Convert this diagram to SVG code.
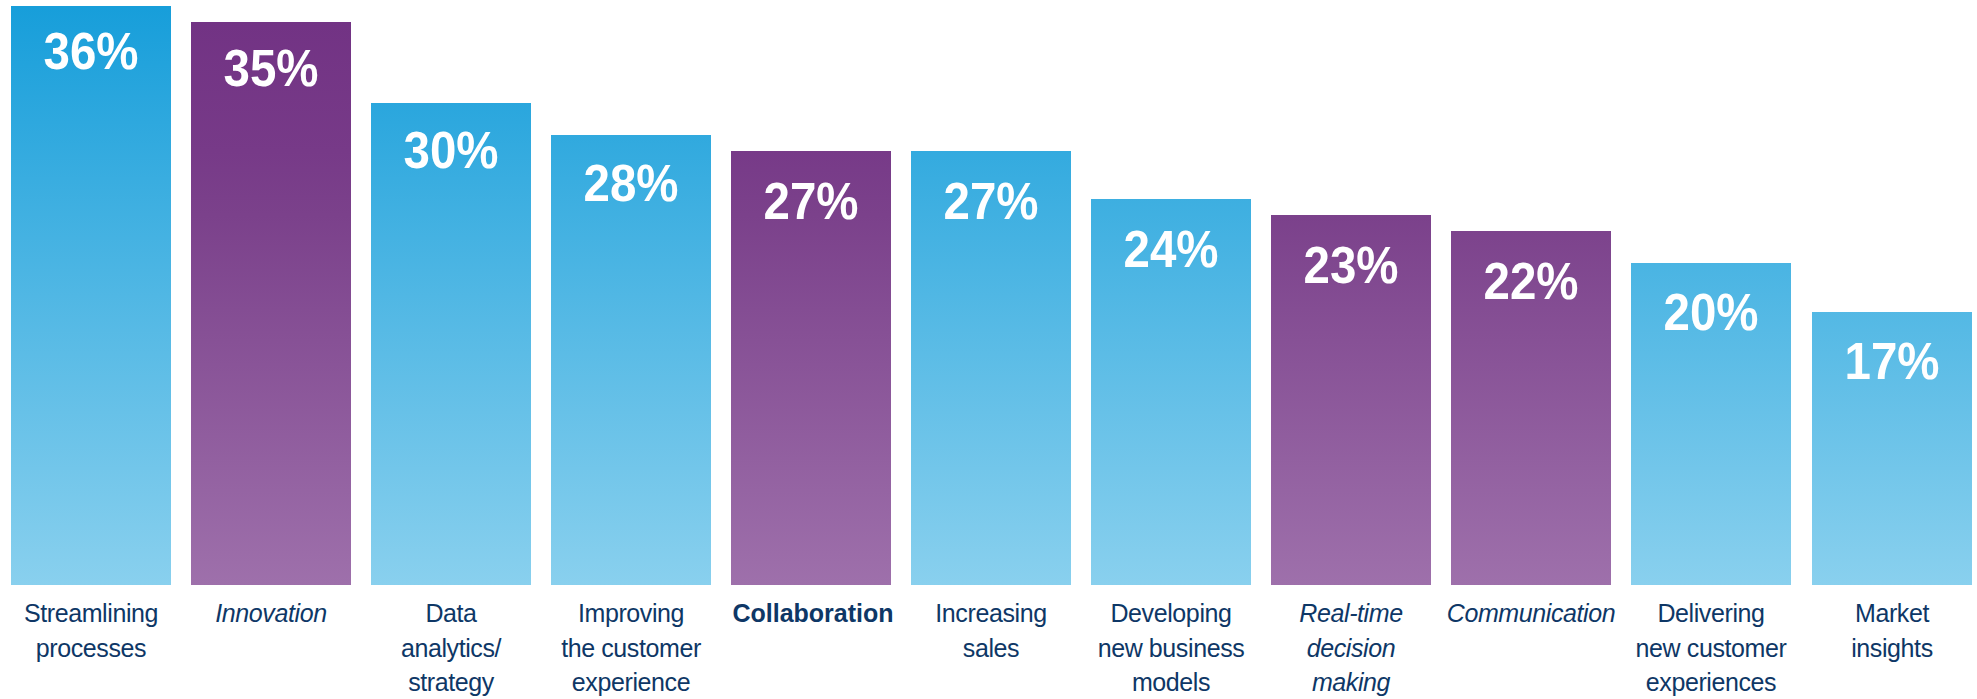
<svg xmlns="http://www.w3.org/2000/svg" width="1977" height="699" viewBox="0 0 1977 699">
<defs>
<linearGradient id="gBlue" gradientUnits="userSpaceOnUse" x1="0" y1="6" x2="0" y2="585">
<stop offset="0" stop-color="#179eda"/>
<stop offset="1" stop-color="#89d0ee"/>
</linearGradient>
<linearGradient id="gPurple" gradientUnits="userSpaceOnUse" x1="0" y1="22" x2="0" y2="585">
<stop offset="0" stop-color="#723384"/>
<stop offset="0.23" stop-color="#773a88"/>
<stop offset="0.343" stop-color="#7b418b"/>
<stop offset="1" stop-color="#9e70ab"/>
</linearGradient>
<style>
.blue{fill:url(#gBlue);}
.purple{fill:url(#gPurple);}
.pct{font-family:"Liberation Sans",Arial,sans-serif;font-weight:bold;font-size:51px;fill:#ffffff;text-anchor:middle;}
.lbl{font-family:"Liberation Sans",Arial,sans-serif;font-size:25px;fill:#0e3766;text-anchor:middle;letter-spacing:-0.4px;}
.it{font-style:italic;}
.bd{font-weight:bold;letter-spacing:0px;}
</style>
</defs>
<rect width="1977" height="699" fill="#ffffff"/>
<g id="connectors"></g>
<g id="bar1">
<rect class="blue" x="11" y="6" width="160" height="579"/>
<text class="pct" x="91" y="69" textLength="95" lengthAdjust="spacingAndGlyphs">36%</text>
<text class="lbl" x="91" y="622"><tspan x="91" y="622">Streamlining</tspan><tspan x="91" y="656.5">processes</tspan></text>
</g>
<g id="bar2">
<rect class="purple" x="191" y="22" width="160" height="563"/>
<text class="pct" x="271" y="86" textLength="95" lengthAdjust="spacingAndGlyphs">35%</text>
<text class="lbl it" x="271" y="622">Innovation</text>
</g>
<g id="bar3">
<rect class="blue" x="371" y="103" width="160" height="482"/>
<text class="pct" x="451" y="168" textLength="95" lengthAdjust="spacingAndGlyphs">30%</text>
<text class="lbl" x="451" y="622"><tspan x="451" y="622">Data</tspan><tspan x="451" y="656.5">analytics/</tspan><tspan x="451" y="691">strategy</tspan></text>
</g>
<g id="bar4">
<rect class="blue" x="551" y="135" width="160" height="450"/>
<text class="pct" x="631" y="201" textLength="95" lengthAdjust="spacingAndGlyphs">28%</text>
<text class="lbl" x="631" y="622"><tspan x="631" y="622">Improving</tspan><tspan x="631" y="656.5">the customer</tspan><tspan x="631" y="691">experience</tspan></text>
</g>
<g id="bar5">
<rect class="purple" x="731" y="151" width="160" height="434"/>
<text class="pct" x="811" y="219" textLength="95" lengthAdjust="spacingAndGlyphs">27%</text>
<text class="lbl bd" x="813" y="622">Collaboration</text>
</g>
<g id="bar6">
<rect class="blue" x="911" y="151" width="160" height="434"/>
<text class="pct" x="991" y="219" textLength="95" lengthAdjust="spacingAndGlyphs">27%</text>
<text class="lbl" x="991" y="622"><tspan x="991" y="622">Increasing</tspan><tspan x="991" y="656.5">sales</tspan></text>
</g>
<g id="bar7">
<rect class="blue" x="1091" y="199" width="160" height="386"/>
<text class="pct" x="1171" y="266.5" textLength="95" lengthAdjust="spacingAndGlyphs">24%</text>
<text class="lbl" x="1171" y="622"><tspan x="1171" y="622">Developing</tspan><tspan x="1171" y="656.5">new business</tspan><tspan x="1171" y="691">models</tspan></text>
</g>
<g id="bar8">
<rect class="purple" x="1271" y="215" width="160" height="370"/>
<text class="pct" x="1351" y="283" textLength="95" lengthAdjust="spacingAndGlyphs">23%</text>
<text class="lbl it" x="1351" y="622"><tspan x="1351" y="622">Real-time</tspan><tspan x="1351" y="656.5">decision</tspan><tspan x="1351" y="691">making</tspan></text>
</g>
<g id="bar9">
<rect class="purple" x="1451" y="231" width="160" height="354"/>
<text class="pct" x="1531" y="299" textLength="95" lengthAdjust="spacingAndGlyphs">22%</text>
<text class="lbl it" x="1531" y="622">Communication</text>
</g>
<g id="bar10">
<rect class="blue" x="1631" y="263" width="160" height="322"/>
<text class="pct" x="1711" y="330" textLength="95" lengthAdjust="spacingAndGlyphs">20%</text>
<text class="lbl" x="1711" y="622"><tspan x="1711" y="622">Delivering</tspan><tspan x="1711" y="656.5">new customer</tspan><tspan x="1711" y="691">experiences</tspan></text>
</g>
<g id="bar11">
<rect class="blue" x="1812" y="312" width="160" height="273"/>
<text class="pct" x="1892" y="379" textLength="95" lengthAdjust="spacingAndGlyphs">17%</text>
<text class="lbl" x="1892" y="622"><tspan x="1892" y="622">Market</tspan><tspan x="1892" y="656.5">insights</tspan></text>
</g>
</svg>
